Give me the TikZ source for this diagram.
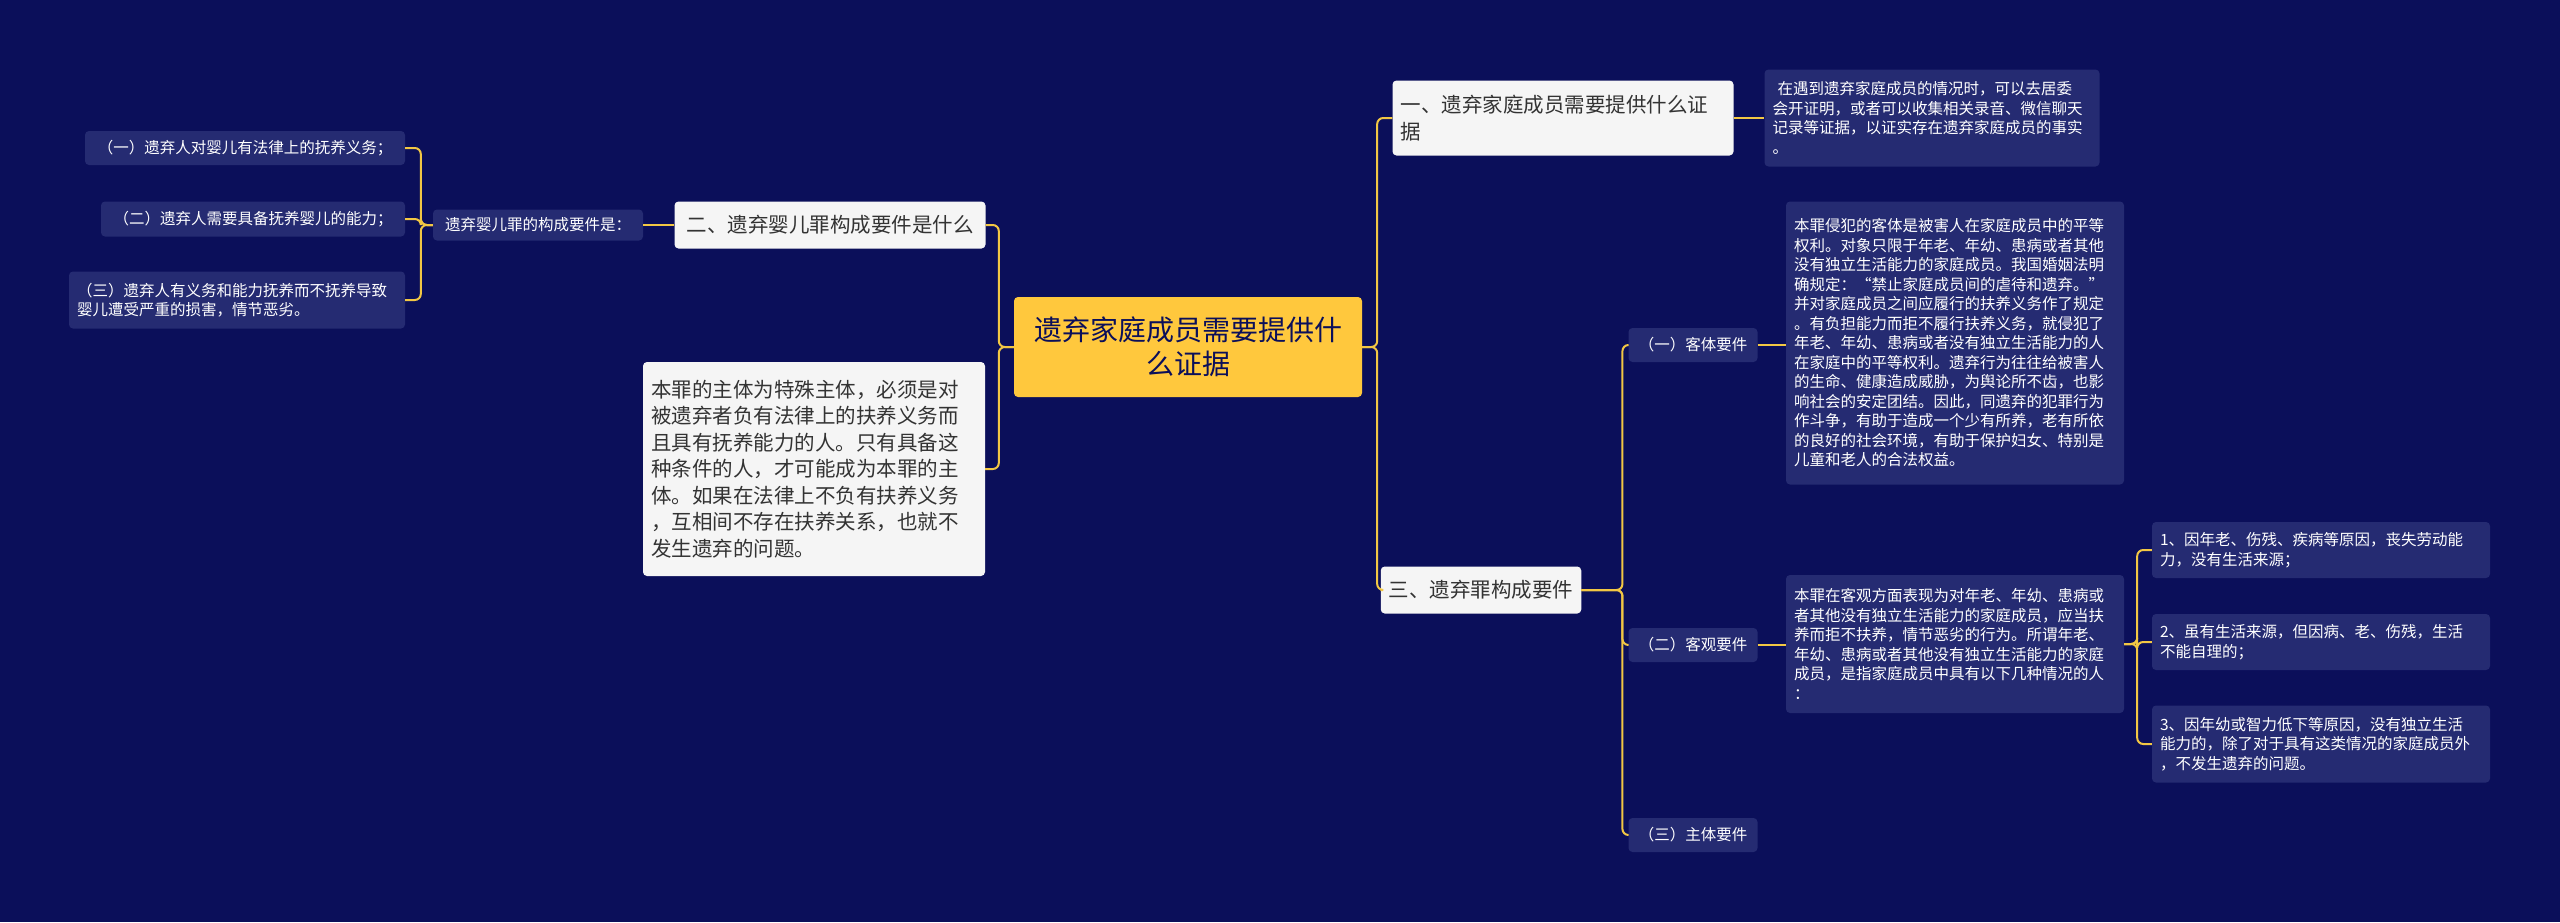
\documentclass[tikz,border=0pt]{standalone}
\usepackage{fontspec}
\setmainfont{Noto Sans CJK SC}
\definecolor{bgblue}{HTML}{0B0F5A}
\definecolor{boxblue}{HTML}{252B72}
\definecolor{rootyellow}{HTML}{FFC83D}
\definecolor{linkyellow}{HTML}{F2C744}
\definecolor{paper}{HTML}{F5F5F5}
\tikzset{
  base/.style={rounded corners=4pt, inner xsep=8pt, inner ysep=6pt, align=left},
  rootbox/.style={base, fill=rootyellow, text=bgblue, font=\fontsize{28}{34}\selectfont, align=center, minimum width=348pt, minimum height=100pt},
  topic/.style={base, fill=paper, text=black!80, font=\fontsize{20.5}{26.5}\selectfont},
  leaf/.style={base, fill=boxblue, text=white, font=\fontsize{15.5}{19.5}\selectfont},
  link/.style={draw=linkyellow, line width=2pt, rounded corners=6pt}
}
\begin{document}
\begin{tikzpicture}[x=1pt,y=-1pt]
  \fill[bgblue] (0,0) rectangle (2560,922);
  \useasboundingbox (0,0) rectangle (2560,922);

  % centre
  \node[rootbox] (root) at (1188,347) {遗弃家庭成员需要提供什\\么证据};

  % right side
  \node[topic, minimum width=341pt, minimum height=75pt, text width=325pt] (qa) at (1563,118) {一、遗弃家庭成员需要提供什么证\\据};
  \node[leaf, minimum width=335pt, minimum height=97pt, text width=319pt] (qatext) at (1932,118) {\ 在遇到遗弃家庭成员的情况时，可以去居委\\会开证明，或者可以收集相关录音、微信聊天\\记录等证据，以证实存在遗弃家庭成员的事实\\。};
  \node[topic, minimum width=176pt, minimum height=47pt] (qc) at (1481,590) {三、遗弃罪构成要件};
  \node[leaf, minimum width=129pt, minimum height=34pt] (obj) at (1693,345) {（一）客体要件};
  \node[leaf, minimum width=338pt, minimum height=283pt, text width=322pt] (objtext) at (1955,343) {本罪侵犯的客体是被害人在家庭成员中的平等\\权利。对象只限于年老、年幼、患病或者其他\\没有独立生活能力的家庭成员。我国婚姻法明\\确规定：“禁止家庭成员间的虐待和遗弃。”\\并对家庭成员之间应履行的扶养义务作了规定\\。有负担能力而拒不履行扶养义务，就侵犯了\\年老、年幼、患病或者没有独立生活能力的人\\在家庭中的平等权利。遗弃行为往往给被害人\\的生命、健康造成威胁，为舆论所不齿，也影\\响社会的安定团结。因此，同遗弃的犯罪行为\\作斗争，有助于造成一个少有所养，老有所依\\的良好的社会环境，有助于保护妇女、特别是\\儿童和老人的合法权益。};
  \node[leaf, minimum width=129pt, minimum height=34pt] (act) at (1693,645) {（二）客观要件};
  \node[leaf, minimum width=338pt, minimum height=138pt, text width=322pt] (acttext) at (1955,644) {本罪在客观方面表现为对年老、年幼、患病或\\者其他没有独立生活能力的家庭成员，应当扶\\养而拒不扶养，情节恶劣的行为。所谓年老、\\年幼、患病或者其他没有独立生活能力的家庭\\成员，是指家庭成员中具有以下几种情况的人\\：};
  \node[leaf, minimum width=338pt, minimum height=56pt, text width=322pt] (case1) at (2321,550) {1、因年老、伤残、疾病等原因，丧失劳动能\\力，没有生活来源；};
  \node[leaf, minimum width=338pt, minimum height=56pt, text width=322pt] (case2) at (2321,642) {2、虽有生活来源，但因病、老、伤残，生活\\不能自理的；};
  \node[leaf, minimum width=338pt, minimum height=77pt, text width=322pt] (case3) at (2321,744) {3、因年幼或智力低下等原因，没有独立生活\\能力的，除了对于具有这类情况的家庭成员外\\，不发生遗弃的问题。};
  \node[leaf, minimum width=129pt, minimum height=34pt] (subj) at (1693,835) {（三）主体要件};

  % left side
  \node[topic, minimum width=311pt, minimum height=47pt] (qb) at (830,225) {二、遗弃婴儿罪构成要件是什么};
  \node[topic, minimum width=342pt, minimum height=214pt, text width=326pt] (qbtext) at (814,469) {本罪的主体为特殊主体，必须是对\\被遗弃者负有法律上的扶养义务而\\且具有抚养能力的人。只有具备这\\种条件的人，才可能成为本罪的主\\体。如果在法律上不负有扶养义务\\，互相间不存在扶养关系，也就不\\发生遗弃的问题。};
  \node[leaf, minimum width=210pt, minimum height=31pt] (elems) at (538,225) {遗弃婴儿罪的构成要件是：};
  \node[leaf, minimum width=320pt, minimum height=34pt, align=right] (elem1) at (245,148) {（一）遗弃人对婴儿有法律上的抚养义务；};
  \node[leaf, minimum width=304pt, minimum height=35pt, align=right] (elem2) at (253,219) {（二）遗弃人需要具备抚养婴儿的能力；};
  \node[leaf, minimum width=336pt, minimum height=57pt, text width=320pt] (elem3) at (237,300) {（三）遗弃人有义务和能力抚养而不抚养导致\\婴儿遭受严重的损害，情节恶劣。};

  % connectors
  \draw[link] (root.east) -- ++(15,0) |- (qa.west);
  \draw[link] (root.east) -- ++(15,0) |- (qc.west);
  \draw[link] (qa.east) -- (qatext.west);
  \draw[link] (qc.east) -- ++(41,0) |- (obj.west);
  \draw[link] (qc.east) -- ++(41,0) |- (act.west);
  \draw[link] (qc.east) -- ++(41,0) |- (subj.west);
  \draw[link] (obj.east) -- (obj.east -| objtext.west);
  \draw[link] (act.east) -- (act.east -| acttext.west);
  \draw[link] (acttext.east) -- ++(13,0) |- (case1.west);
  \draw[link] (acttext.east) -- ++(13,0) |- (case2.west);
  \draw[link] (acttext.east) -- ++(13,0) |- (case3.west);
  \draw[link] (root.west) -- ++(-15,0) |- (qb.east);
  \draw[link] (root.west) -- ++(-15,0) |- (qbtext.east);
  \draw[link] (qb.west) -- (elems.east);
  \draw[link] (elems.west) -- ++(-12,0) |- (elem1.east);
  \draw[link] (elems.west) -- ++(-12,0) |- (elem2.east);
  \draw[link] (elems.west) -- ++(-12,0) |- (elem3.east);
\end{tikzpicture}
\end{document}
